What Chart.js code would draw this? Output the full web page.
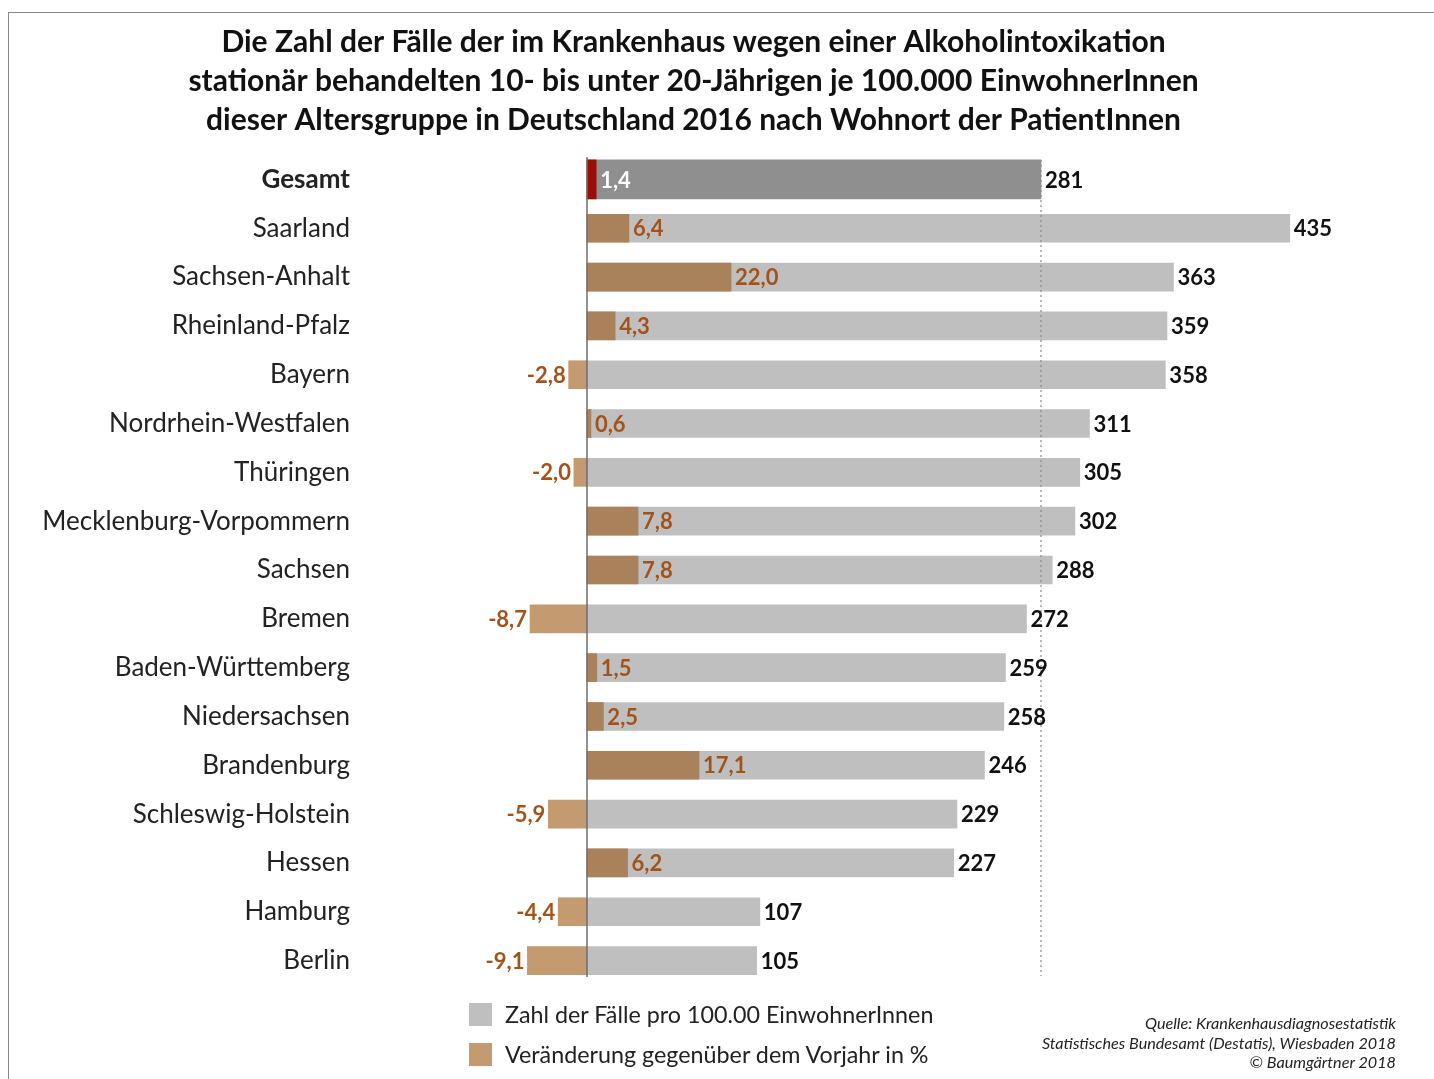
<!DOCTYPE html>
<html>
<head>
<meta charset="utf-8">
<script src="https://cdn.jsdelivr.net/npm/chart.js@4.4.1/dist/chart.umd.min.js"></script>
<style>
    html, body { margin: 0; padding: 0; background: #fff; }
    #wrap { position: relative; width: 1434px; height: 1079px; overflow: hidden; font-family: Lato, sans-serif; }
    #frame { position: absolute; left: 8px; top: 12px; width: 1500px; height: 1200px; border-top: 1.5px solid #8a8a8a; border-left: 1.5px solid #8a8a8a; }
    #chart { position: absolute; left: 0; top: 0; }
    .leg { position: absolute; left: 469px; font-size: 23.3px; color: #222; display: flex; align-items: center; }
    .leg span.box { display: inline-block; width: 23px; height: 23px; margin-right: 13px; }
    #source { position: absolute; right: 38px; top: 1013px; text-align: right; font-style: italic; font-size: 16.2px; line-height: 19.5px; color: #222; }
</style>
</head>
<body>
<div id="wrap">
    <div id="frame"></div>
    <canvas id="chart" width="1434" height="1079"></canvas>
    <div class="leg" style="top:1000px"><span class="box" style="background:#bfbfbf"></span>Zahl der Fälle pro 100.00 EinwohnerInnen</div>
    <div class="leg" style="top:1040px"><span class="box" style="background:#c49a70"></span>Veränderung gegenüber dem Vorjahr in %</div>
    <div id="source">Quelle: Krankenhausdiagnosestatistik<br>Statistisches Bundesamt (Destatis), Wiesbaden 2018<br>© Baumgärtner 2018</div>
</div>
<script>
const titleLines = [
    'Die Zahl der Fälle der im Krankenhaus wegen einer Alkoholintoxikation',
    'stationär behandelten 10- bis unter 20-Jährigen je 100.000 EinwohnerInnen',
    'dieser Altersgruppe in Deutschland 2016 nach Wohnort der PatientInnen'
];
const regions = ['Gesamt', 'Saarland', 'Sachsen-Anhalt', 'Rheinland-Pfalz', 'Bayern', 'Nordrhein-Westfalen',
    'Thüringen', 'Mecklenburg-Vorpommern', 'Sachsen', 'Bremen', 'Baden-Württemberg', 'Niedersachsen',
    'Brandenburg', 'Schleswig-Holstein', 'Hessen', 'Hamburg', 'Berlin'];
const cases = [281, 435, 363, 359, 358, 311, 305, 302, 288, 272, 259, 258, 246, 229, 227, 107, 105];
const change = [1.4, 6.4, 22.0, 4.3, -2.8, 0.6, -2.0, 7.8, 7.8, -8.7, 1.5, 2.5, 17.1, -5.9, 6.2, -4.4, -9.1];

// both axes share the same zero; the % axis is stretched relative to the case axis
const caseRange = [-140.5, 482.8];
const changeRange = [-34.66, 119.1];

const FONT = 'Lato, sans-serif';
const BROWN_TEXT = '#a3531a';

const onlyTotal = arr => arr.map((v, i) => i === 0 ? v : null);
const onlyStates = arr => arr.map((v, i) => i === 0 ? null : v);
const fmt = v => v.toFixed(1).replace('.', ',');

const labelPlugin = {
    id: 'valueLabels',
    afterDatasetsDraw(chart) {
        const { ctx, chartArea, scales } = chart;
        const m0 = chart.getDatasetMeta(0), m1 = chart.getDatasetMeta(1);
        const m2 = chart.getDatasetMeta(2), m3 = chart.getDatasetMeta(3);

        ctx.save();
        // dotted reference line at the overall value
        const xRef = scales.xCases.getPixelForValue(cases[0]);
        ctx.strokeStyle = '#8a8a8a';
        ctx.lineWidth = 1.2;
        ctx.setLineDash([2, 3]);
        ctx.beginPath();
        ctx.moveTo(xRef, chartArea.top + 5);
        ctx.lineTo(xRef, chartArea.bottom - 9);
        ctx.stroke();
        ctx.setLineDash([]);

        // zero line
        const x0 = scales.xCases.getPixelForValue(0);
        ctx.strokeStyle = '#6e6e6e';
        ctx.lineWidth = 1.5;
        ctx.beginPath();
        ctx.moveTo(x0, chartArea.top + 2);
        ctx.lineTo(x0, chartArea.bottom - 8);
        ctx.stroke();

        ctx.textBaseline = 'middle';
        ctx.font = 'bold 22px ' + FONT;
        regions.forEach((r, i) => {
            const g = i === 0 ? m2.data[0] : m3.data[i];
            const b = i === 0 ? m0.data[0] : m1.data[i];
            ctx.fillStyle = '#111';
            ctx.textAlign = 'left';
            ctx.fillText(String(cases[i]), g.x + 4, g.y + 1);

            ctx.fillStyle = i === 0 ? '#ffffff' : BROWN_TEXT;
            if (change[i] >= 0) {
                ctx.textAlign = 'left';
                ctx.fillText(fmt(change[i]), b.x + 4, b.y + 1);
            } else {
                ctx.textAlign = 'right';
                ctx.fillText(fmt(change[i]), b.x - 3, b.y + 1);
            }
        });
        ctx.restore();
    }
};

new Chart(document.getElementById('chart'), {
    type: 'bar',
    data: {
        labels: regions,
        datasets: [
            { label: 'Veränderung gesamt', data: onlyTotal(change), xAxisID: 'xChange', backgroundColor: '#9b0d05', barThickness: 39, grouped: false, order: 0 },
            { label: 'Veränderung gegenüber dem Vorjahr in %', data: onlyStates(change), xAxisID: 'xChange',
              backgroundColor: c => (c.raw >= 0 ? '#a9815b' : '#c49a70'), barThickness: 28, grouped: false, order: 1 },
            { label: 'Fälle gesamt', data: onlyTotal(cases), xAxisID: 'xCases', backgroundColor: '#8f8f8f', barThickness: 39, grouped: false, order: 2 },
            { label: 'Zahl der Fälle pro 100.00 EinwohnerInnen', data: onlyStates(cases), xAxisID: 'xCases', backgroundColor: '#bfbfbf', barThickness: 28, grouped: false, order: 3 }
        ]
    },
    options: {
        indexAxis: 'y',
        responsive: false,
        animation: false,
        layout: { padding: { left: 20, right: 67, top: 0, bottom: 94 } },
        scales: {
            xCases: { type: 'linear', position: 'bottom', display: false, min: caseRange[0], max: caseRange[1] },
            xChange: { type: 'linear', position: 'top', display: false, min: changeRange[0], max: changeRange[1] },
            y: {
                grid: { display: false, drawTicks: false },
                border: { display: false },
                afterFit: s => { s.width = 340; },
                ticks: {
                    padding: 10,
                    color: '#222',
                    font: c => ({ family: FONT, size: 26, weight: c.index === 0 ? 'bold' : 'normal' })
                }
            }
        },
        plugins: {
            legend: { display: false },
            tooltip: { enabled: false },
            title: {
                display: true,
                text: titleLines,
                color: '#111',
                font: { family: FONT, size: 30, weight: 'bold', lineHeight: 1.3 },
                padding: { top: 23, bottom: 15 }
            }
        }
    },
    plugins: [labelPlugin]
});
</script>
</body>
</html>
